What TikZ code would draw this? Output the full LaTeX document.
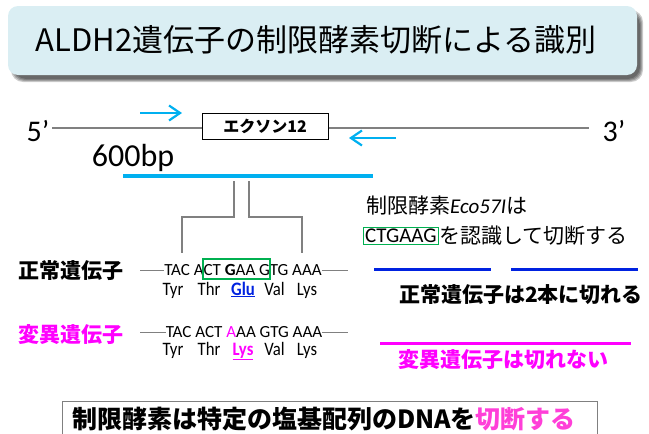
\documentclass[tikz,border=0pt]{standalone}
\usepackage{fontspec}
\setmainfont{Carlito}
\newfontfamily\jp{Noto Sans CJK JP}
\usetikzlibrary{arrows.meta}
\definecolor{titlebg}{HTML}{DAEEF3}
\definecolor{primercol}{HTML}{00B0F0}
\definecolor{seqgreen}{HTML}{00B050}
\definecolor{mag}{HTML}{FF00FF}
\definecolor{pinkmag}{HTML}{FF3FD8}
\definecolor{linegray}{HTML}{808080}
\definecolor{cutblue}{HTML}{0022E0}
\newcommand{\narrowtxt}[1]{\scalebox{0.88}[1]{#1}}
\tikzset{
  fs/.style={font=\fontsize{#1}{#1}\selectfont},
  plain/.style={inner sep=0pt},
  primer/.style={primercol, line width=2.2pt, -{Straight Barb[length=11pt,width=15pt,line width=2.2pt]}},
  dnaline/.style={linegray, line width=1.3pt},
  bracket/.style={linegray, line width=1.3pt},
  seqtext/.style={plain, font=\fontsize{17}{17}\selectfont},
  aa/.style={plain, anchor=base, font=\fontsize{19}{19}\selectfont},
  jplabel/.style={plain, font=\jp\bfseries\fontsize{21}{21}\selectfont},
}
\begin{document}
\begin{tikzpicture}[x=1pt,y=-1pt]
\useasboundingbox (0,0) rectangle (649,434);
% title with shadow
\foreach \i in {0,1,2,3}{
  \fill[black,opacity=0.2,rounded corners=12] (14-\i,13-\i) rectangle (643+\i-3,82+\i-3);
}
\fill[titlebg, rounded corners=10] (8,6) rectangle (637,75);
\node[plain, font=\jp\fontsize{31}{34}\selectfont] (title) at (316,40) {ALDH2遺伝子の制限酵素切断による識別};
% gene map
\node[plain, fs=30] (p5) at (38,131) {5’};
\node[plain, fs=30] (p3) at (614,131) {3’};
\coordinate (l5) at (52,128);
\coordinate (l3) at (589,128);
\node[draw=black, line width=1pt, minimum width=126pt, minimum height=26pt, inner sep=0pt,
      font=\jp\bfseries\fontsize{16}{16}\selectfont] (exon) at (265,126) {エクソン12};
\draw[dnaline] (l5) -- (l5 -| exon.west);
\draw[dnaline] (l3 -| exon.east) -- (l3);
\coordinate (f1) at (140,113); \coordinate (f2) at (182,113);
\coordinate (r1) at (396,138); \coordinate (r2) at (349,138);
\draw[primer] (f1) -- (f2);
\draw[primer] (r1) -- (r2);
\node[plain, fs=32] (bp) at (133,158) {600bp};
\coordinate (b1) at (123,176); \coordinate (b2) at (373,176);
\draw[primercol, line width=4pt] (b1) -- (b2);
% bracket
\coordinate (k1) at (234,181); \coordinate (k2) at (249,181);
\coordinate (k3) at (182,253); \coordinate (k4) at (302,253);
\draw[bracket] (k1) -- (234,217) -- (182,217) -- (k3);
\draw[bracket] (k2) -- (249,217) -- (302,217) -- (k4);
% normal gene
\node[jplabel] (nlab) at (71,271) {正常遺伝子};
\node[seqtext] (nseq) at (243,270) {TAC ACT \textbf{G}AA GTG AAA};
\coordinate (nL) at (140,270); \coordinate (nR) at (348,270);
\draw[dnaline, line width=1pt] (nL) -- (nseq.west);
\draw[dnaline, line width=1pt] (nseq.east) -- (nR);
\draw[seqgreen, line width=1.5pt] (203,259) rectangle (270,279);
\node[aa] (n1) at (173,295) {\narrowtxt{Tyr}};
\node[aa] (n2) at (209,295) {\narrowtxt{Thr}};
\node[aa, text=cutblue] (n3) at (243,295) {\narrowtxt{\underline{\textbf{Glu}}}};
\node[aa] (n4) at (274.5,295) {\narrowtxt{Val}};
\node[aa] (n5) at (307,295) {\narrowtxt{Lys}};
% mutant gene
\node[jplabel, text=mag] (mlab) at (71,335) {変異遺伝子};
\node[seqtext] (mseq) at (244,332) {TAC ACT \textcolor{mag}{A}AA GTG AAA};
\coordinate (mL) at (140,332); \coordinate (mR) at (348,332);
\draw[dnaline, line width=1pt] (mL) -- (mseq.west);
\draw[dnaline, line width=1pt] (mseq.east) -- (mR);
\node[aa] (m1) at (173,355) {\narrowtxt{Tyr}};
\node[aa] (m2) at (209,355) {\narrowtxt{Thr}};
\node[aa, text=mag] (m3) at (243,355) {\narrowtxt{\underline{\textbf{Lys}}}};
\node[aa] (m4) at (274.5,355) {\narrowtxt{Val}};
\node[aa] (m5) at (307,355) {\narrowtxt{Lys}};
% right side
\node[plain, anchor=west, font=\fontsize{21}{21}\selectfont] (enz) at (366,206) {{\jp 制限酵素}\textit{Eco57I}{\jp は}};
\node[draw=seqgreen, line width=1.3pt, inner sep=1.5pt, anchor=west, font=\fontsize{21}{21}\selectfont] (ctg) at (363,236) {CTGAAG};
\node[plain, anchor=west, font=\jp\fontsize{21}{21}\selectfont] (rec) at (ctg.east) {を認識して切断する};
\coordinate (c1) at (374,269); \coordinate (c2) at (491,269);
\coordinate (c3) at (511,269); \coordinate (c4) at (638,269);
\draw[cutblue, line width=3pt] (c1) -- (c2);
\draw[cutblue, line width=3pt] (c3) -- (c4);
\node[jplabel] (ncut) at (521,295) {正常遺伝子は2本に切れる};
\coordinate (u1) at (380,343); \coordinate (u2) at (631,343);
\draw[mag, line width=3pt] (u1) -- (u2);
\node[jplabel, text=mag] (mcut) at (503,360) {変異遺伝子は切れない};
% bottom box
\draw[linegray, line width=0.8pt] (62,401) rectangle (597,450);
\node[plain, font=\jp\bfseries\fontsize{25}{25}\selectfont] (bottom) at (324,419) {制限酵素は特定の塩基配列のDNAを\textcolor{pinkmag}{切断する}};
\end{tikzpicture}
\end{document}
